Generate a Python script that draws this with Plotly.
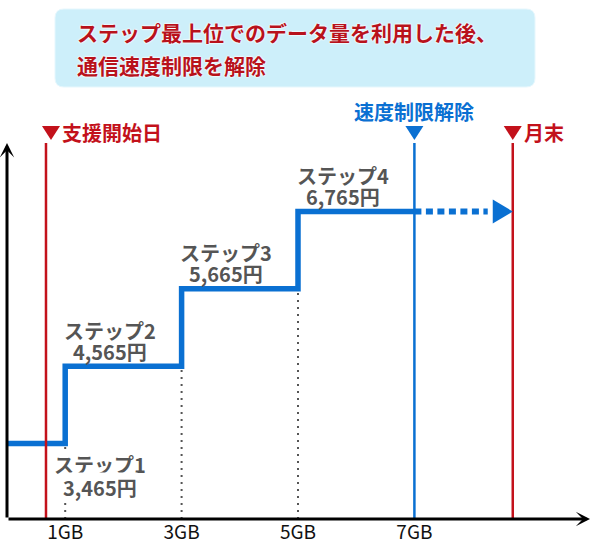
import plotly.graph_objects as go

# ---------------- data ----------------
step_names = ["ステップ1", "ステップ2", "ステップ3", "ステップ4"]
prices = [3465, 4565, 5665, 6765]          # yen per step
thresholds_gb = [1, 3, 5, 7]               # data volume where each step ends / next begins
tick_labels = ["1GB", "3GB", "5GB", "7GB"]
support_start_gb = 0.67                    # 支援開始日
release_gb = 7                             # 速度制限解除
month_end_gb = 8.69                        # 月末
dots_end_gb = 8.26
title_lines = ["ステップ最上位でのデータ量を利用した後、", "通信速度制限を解除"]
label_support = "支援開始日"
label_release = "速度制限解除"
label_month_end = "月末"

# ---------------- layout constants ----------------
W, H = 590, 551
ML, MR, MT, MB = 7, 1, 143, 32
PW, PH = W - ML - MR, H - MT - MB
X_RANGE = [0, 10]
Y_RANGE = [2390, 7740]

BLUE = "#0a70d2"
RED = "#c3111b"
TITLE_RED = "#b8121c"
GRAY = "#555555"
FONT = "Noto Sans CJK JP"


def x_to_paper(x):
    return (x - X_RANGE[0]) / (X_RANGE[1] - X_RANGE[0])


def px_to_paper(px):
    return (px - ML) / PW


def py_to_paper(py):
    return (H - MB - py) / PH


fig = go.Figure()

# step line: (0,p1) -> (1,p1) -> (1,p2) -> (3,p2) -> ... -> (7,p4)
fig.add_trace(go.Scatter(
    x=[X_RANGE[0]] + thresholds_gb,
    y=prices + [prices[-1]],
    mode="lines",
    line=dict(color=BLUE, width=5.5, shape="hv"),
    cliponaxis=False, hoverinfo="skip", showlegend=False,
))
# dotted continuation after release
fig.add_trace(go.Scatter(
    x=[release_gb, dots_end_gb],
    y=[prices[-1], prices[-1]],
    mode="lines",
    line=dict(color=BLUE, width=6, dash="7px,4.5px"),
    cliponaxis=False, hoverinfo="skip", showlegend=False,
))

shapes = []
# gray dotted guides
for t, p in zip(thresholds_gb[:3], prices[:3]):
    shapes.append(dict(type="line", xref="x", yref="y", x0=t, x1=t,
                       y0=Y_RANGE[0], y1=p, layer="below",
                       line=dict(color=GRAY, width=2, dash="2px,5px")))
# vertical marker lines
for xv, col in [(support_start_gb, RED), (release_gb, BLUE), (month_end_gb, RED)]:
    shapes.append(dict(type="line", xref="x", yref="y", x0=xv, x1=xv,
                       y0=Y_RANGE[0], y1=Y_RANGE[1], layer="above",
                       line=dict(color=col, width=2.5)))
# arrow head of dotted line
shapes.append(dict(type="path", xref="x", yref="y",
                   xsizemode="pixel", ysizemode="pixel",
                   xanchor=month_end_gb, yanchor=prices[-1],
                   path="M0,0 L-20,12 L-20,-12 Z",
                   fillcolor=BLUE, line=dict(width=0), layer="above"))
# ▼ markers above lines
for xv, col, dx in [(support_start_gb, RED, 5), (release_gb, BLUE, 0), (month_end_gb, RED, 0)]:
    shapes.append(dict(type="path", xref="paper", yref="paper",
                       xsizemode="pixel", ysizemode="pixel",
                       xanchor=x_to_paper(xv), yanchor=1,
                       path=f"M{dx-9},17 L{dx+9},17 L{dx},3 Z",
                       fillcolor=col, line=dict(width=0), layer="above"))
# title box (rounded)
x0, x1 = px_to_paper(55), px_to_paper(535)
yt, yb = py_to_paper(9), py_to_paper(87)
rx, ry = 9 / PW, 9 / PH
shapes.append(dict(
    type="path", xref="paper", yref="paper", layer="below",
    path=(f"M{x0+rx},{yt} L{x1-rx},{yt} Q{x1},{yt} {x1},{yt-ry} "
          f"L{x1},{yb+ry} Q{x1},{yb} {x1-rx},{yb} L{x0+rx},{yb} "
          f"Q{x0},{yb} {x0},{yb+ry} L{x0},{yt-ry} Q{x0},{yt} {x0+rx},{yt} Z"),
    fillcolor="#cdeffa", line=dict(color="#e6f7fd", width=1)))

annotations = []
label_font = dict(family=FONT, size=20, color=GRAY, weight="bold")
# step labels
for i, (name, p) in enumerate(zip(step_names, prices)):
    price_txt = f"{p:,}円"
    if i == 0:
        lx = thresholds_gb[0] + 0.6
        annotations.append(dict(x=lx, y=p, xref="x", yref="y", text=name, showarrow=False,
                                yshift=-21, font=label_font, bgcolor="white",
                                xanchor="center", yanchor="middle", borderpad=0))
        annotations.append(dict(x=lx, y=p, xref="x", yref="y", text=price_txt, showarrow=False,
                                yshift=-44, font=label_font, bgcolor="white",
                                xanchor="center", yanchor="middle", borderpad=0))
    else:
        lx = thresholds_gb[i - 1] + 0.77
        annotations.append(dict(x=lx, y=p, xref="x", yref="y", text=name, showarrow=False,
                                yshift=36, font=label_font,
                                xanchor="center", yanchor="middle"))
        annotations.append(dict(x=lx, y=p, xref="x", yref="y", text=price_txt, showarrow=False,
                                yshift=15, font=label_font,
                                xanchor="center", yanchor="middle"))

# top labels
annotations.append(dict(x=release_gb, y=py_to_paper(111.5), xref="x", yref="paper",
                        text=label_release, showarrow=False, xanchor="center", yanchor="middle",
                        font=dict(family=FONT, size=20, color=BLUE, weight="bold")))
annotations.append(dict(x=support_start_gb, y=py_to_paper(132), xref="x", yref="paper",
                        text=label_support, showarrow=False, xanchor="left", yanchor="middle",
                        xshift=14, font=dict(family=FONT, size=20, color=RED, weight="bold")))
annotations.append(dict(x=month_end_gb, y=py_to_paper(132), xref="x", yref="paper",
                        text=label_month_end, showarrow=False, xanchor="left", yanchor="middle",
                        xshift=9, font=dict(family=FONT, size=20, color=RED, weight="bold")))

# title lines
for line, py in zip(title_lines, [32.5, 65]):
    annotations.append(dict(x=px_to_paper(75), y=py_to_paper(py), xref="paper", yref="paper",
                            text=line, showarrow=False, xanchor="left", yanchor="middle",
                            font=dict(family=FONT, size=21, color=TITLE_RED, weight="bold",
                                      shadow="0 0 2px white, 0 0 2px white, 0 0 2px white")))

# axis arrows
annotations.append(dict(x=X_RANGE[1] + 0.02, y=Y_RANGE[0], ax=X_RANGE[0], ay=Y_RANGE[0],
                        xref="x", yref="y", axref="x", ayref="y", text="",
                        showarrow=True, arrowhead=3, arrowsize=0.8, arrowwidth=3,
                        arrowcolor="black", standoff=0))
annotations.append(dict(x=X_RANGE[0], y=Y_RANGE[1], ax=X_RANGE[0], ay=Y_RANGE[0],
                        xref="x", yref="y", axref="x", ayref="y", text="",
                        showarrow=True, arrowhead=3, arrowsize=0.8, arrowwidth=3,
                        arrowcolor="black", standoff=0))

fig.update_layout(
    width=W, height=H,
    margin=dict(l=ML, r=MR, t=MT, b=MB, pad=0),
    paper_bgcolor="white", plot_bgcolor="white",
    shapes=shapes, annotations=annotations,
    showlegend=False,
    xaxis=dict(range=X_RANGE, showgrid=False, zeroline=False, showline=False,
               tickvals=thresholds_gb, ticktext=tick_labels, ticks="",
               tickfont=dict(family=FONT, size=19, color="#111111"), fixedrange=True),
    yaxis=dict(range=Y_RANGE, showgrid=False, zeroline=False, showline=False,
               showticklabels=False, ticks="", fixedrange=True),
)

fig.write_html("out.html")
